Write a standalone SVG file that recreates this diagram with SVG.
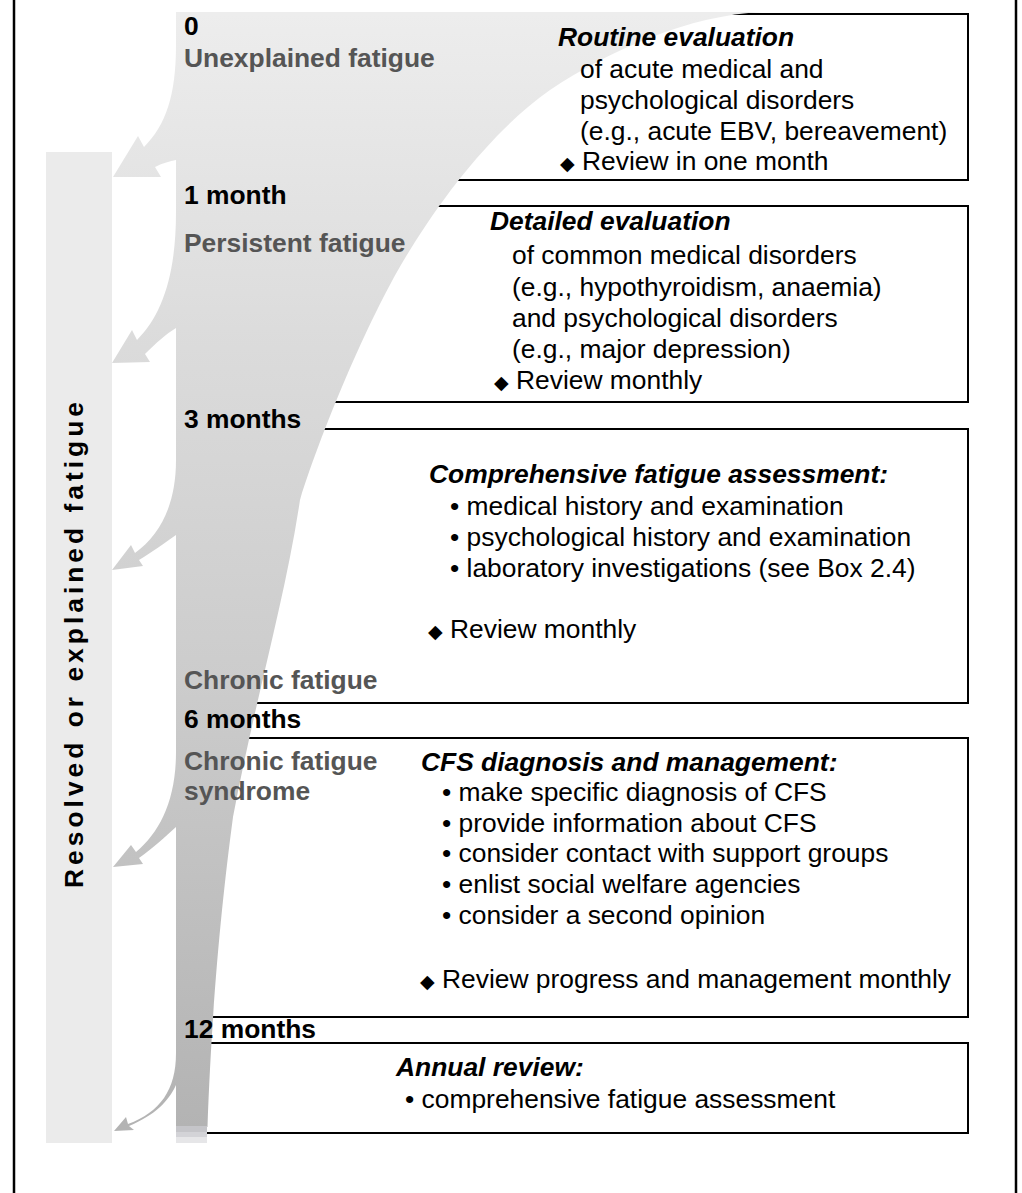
<svg xmlns="http://www.w3.org/2000/svg" width="1022" height="1193" viewBox="0 0 1022 1193">
<style>
.t{font-family:"Liberation Sans",Arial,Helvetica,sans-serif;font-size:26.4px;fill:#000}
.b{font-weight:bold}
.bi{font-weight:bold;font-style:italic}
.g{font-weight:bold;fill:#555}
.box{fill:#fff;stroke:#000;stroke-width:2}
.dia{font-family:"DejaVu Sans",sans-serif;font-size:19px}
</style>
<defs>
<linearGradient id="fg" gradientUnits="userSpaceOnUse" x1="0" y1="13" x2="0" y2="1127">
<stop offset="0" stop-color="#ededed"/>
<stop offset="0.3" stop-color="#dbdbdb"/>
<stop offset="0.6" stop-color="#cccccc"/>
<stop offset="1" stop-color="#b3b3b3"/>
</linearGradient>
</defs>
<rect width="1022" height="1193" fill="#fff"/>
<g id="frame" stroke="#000" stroke-width="2.5">
<line x1="14" y1="0" x2="14" y2="1193"/>
<line x1="1016" y1="0" x2="1016" y2="1193"/>
</g>
<g id="resolved">
<rect x="46" y="152" width="66" height="991" fill="#ebebeb"/>
<text class="t b" transform="translate(83,643) rotate(-90)" text-anchor="middle" letter-spacing="4">Resolved or explained fatigue</text>
</g>
<g id="boxes">
<rect id="box1" class="box" x="180" y="14" width="788" height="166"/>
<rect id="box2" class="box" x="180" y="206" width="788" height="196"/>
<rect id="box3" class="box" x="180" y="429" width="788" height="274"/>
<rect id="box4" class="box" x="180" y="738" width="788" height="279"/>
<rect id="box5" class="box" x="180" y="1043" width="788" height="90"/>
</g>
<g id="funnel">
<path fill="url(#fg)" d="M176,12 L762,12 C690,15 610,50 550,90 C500,125 450,185 410,250 C375,305 325,420 300,500 C285,600 255,700 233,817 C222,900 212,1000 207.5,1127 L176,1127 Z"/>
<rect x="176" y="1126" width="31" height="6" fill="#c5c5c9"/>
<rect x="176" y="1132" width="31" height="5" fill="#d3d3d7"/>
<rect x="176" y="1137" width="31" height="6" fill="#e6e6e8"/>
</g>
<g id="connectors" fill="url(#fg)">
<path d="M176,45 C176,95 166,125 144,147 L138,136 L113,177 L161,177 L155,167 C163,163 170,161 176,160 Z"/>
<path d="M176,212 C176,275 162,315 137,340 L132,330 L112,363 L150,362 L145,354 C156,343 166,334 176,328 Z"/>
<path d="M176,460 C176,505 160,535 135,553 L131,545 L112,570 L143,566 L139,560 C152,552 166,542 176,535 Z"/>
<path d="M176,752 C176,800 160,832 136,852 L131,845 L113,867 L143,864 L139,858 C153,848 166,836 176,827 Z"/>
<path d="M176,1053 C176,1090 160,1112 128,1124 L126,1117 L114,1131 L134,1130 L129,1126 C155,1115 168,1102 176,1085 Z"/>
</g>
<g id="stages">
<text class="t b" x="184" y="35">0</text>
<text class="t g" x="184" y="67">Unexplained fatigue</text>
<text class="t b" x="184" y="204">1 month</text>
<text class="t g" x="184" y="252">Persistent fatigue</text>
<text class="t b" x="184" y="428">3 months</text>
<text class="t g" x="184" y="689">Chronic fatigue</text>
<text class="t b" x="184" y="728">6 months</text>
<text class="t g" x="184" y="770">Chronic fatigue</text>
<text class="t g" x="184" y="800">syndrome</text>
<text class="t b" x="184" y="1038">12 months</text>
</g>
<g id="node1">
<text class="t bi" x="558" y="46">Routine evaluation</text>
<text class="t" x="580" y="78">of acute medical and</text>
<text class="t" x="580" y="109">psychological disorders</text>
<text class="t" x="580" y="140">(e.g., acute EBV, bereavement)</text>
<text class="t" x="560" y="170"><tspan class="dia">◆</tspan> Review in one month</text>
</g>
<g id="node2">
<text class="t bi" x="490" y="230">Detailed evaluation</text>
<text class="t" x="512" y="264">of common medical disorders</text>
<text class="t" x="512" y="296">(e.g., hypothyroidism, anaemia)</text>
<text class="t" x="512" y="327">and psychological disorders</text>
<text class="t" x="512" y="358">(e.g., major depression)</text>
<text class="t" x="494" y="389"><tspan class="dia">◆</tspan> Review monthly</text>
</g>
<g id="node3">
<text class="t bi" x="429" y="483">Comprehensive fatigue assessment:</text>
<text class="t" x="450" y="515">• medical history and examination</text>
<text class="t" x="450" y="546">• psychological history and examination</text>
<text class="t" x="450" y="577">• laboratory investigations (see Box 2.4)</text>
<text class="t" x="428" y="638"><tspan class="dia">◆</tspan> Review monthly</text>
</g>
<g id="node4">
<text class="t bi" x="421" y="771">CFS diagnosis and management:</text>
<text class="t" x="442" y="801">• make specific diagnosis of CFS</text>
<text class="t" x="442" y="832">• provide information about CFS</text>
<text class="t" x="442" y="862">• consider contact with support groups</text>
<text class="t" x="442" y="893">• enlist social welfare agencies</text>
<text class="t" x="442" y="924">• consider a second opinion</text>
<text class="t" x="420" y="988"><tspan class="dia">◆</tspan> Review progress and management monthly</text>
</g>
<g id="node5">
<text class="t bi" x="396" y="1076">Annual review:</text>
<text class="t" x="405" y="1108">• comprehensive fatigue assessment</text>
</g>
</svg>
